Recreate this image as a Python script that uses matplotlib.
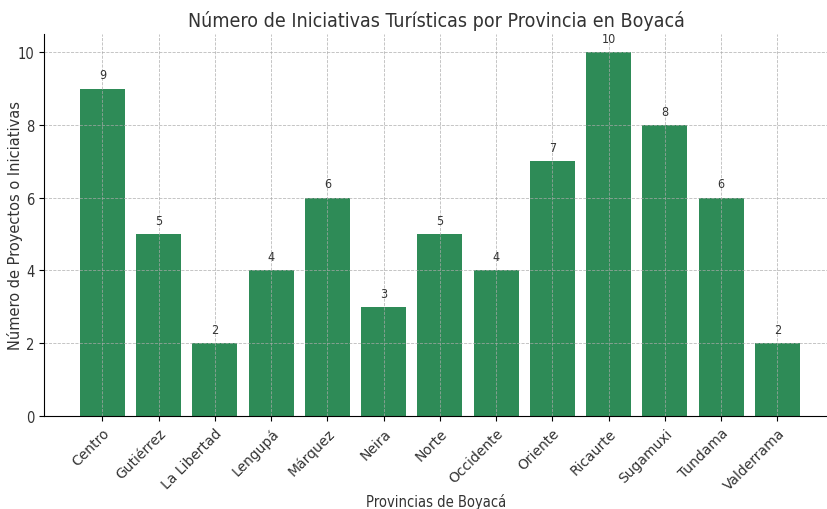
import matplotlib.pyplot as plt

provincias = ['Centro', 'Gutiérrez', 'La Libertad', 'Lengupá', 'Márquez', 'Neira',
              'Norte', 'Occidente', 'Oriente', 'Ricaurte', 'Sugamuxi', 'Tundama',
              'Valderrama']
iniciativas = [9, 5, 2, 4, 6, 3, 5, 4, 7, 10, 8, 6, 2]

cond = dict(family='DejaVu Sans', stretch='condensed')

fig = plt.figure(figsize=(8.28, 5.10), dpi=100)
ax = fig.add_axes([44/828, 1 - 417/510, (828 - 44)/828, (417 - 35)/510])

bars = ax.bar(provincias, iniciativas, color='seagreen', width=0.8)
for b, v in zip(bars, iniciativas):
    ax.text(b.get_x() + b.get_width()/2, v + 0.2, str(v), ha='center', va='bottom',
            fontsize=9, color='#333333', **cond)

ax.set_xlim(-1.04, 12.9)
ax.set_ylim(0, 10.5)
ax.set_title('Número de Iniciativas Turísticas por Provincia en Boyacá',
             fontsize=14, color='#333333', pad=6, **cond)
ax.set_xlabel('Provincias de Boyacá', fontsize=10.5, color='#333333', **cond)
ax.xaxis.set_label_coords(0.5, -0.202)
ax.set_ylabel('Número de Proyectos o Iniciativas', fontsize=10.5, color='#333333')
ax.yaxis.set_label_coords(-0.027, 0.5)
ax.grid(True, ls='--', lw=0.6, color='#aaaaaa', alpha=0.8)
ax.spines['top'].set_visible(False)
ax.spines['right'].set_visible(False)
ax.tick_params(axis='x', labelsize=10, labelcolor='#333333')
for lab in ax.get_xticklabels():
    lab.set_rotation(45)
    lab.set_ha('right')
    lab.set_rotation_mode('anchor')
ax.tick_params(axis='y', labelsize=10.5, labelcolor='#333333')
for lab in ax.get_yticklabels():
    lab.set_fontstretch('condensed')

fig.savefig('out.png', dpi=100, facecolor='white')
